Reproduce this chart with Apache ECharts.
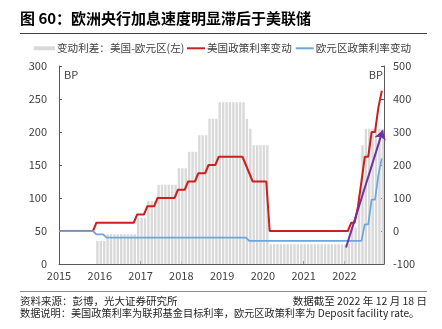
<!DOCTYPE html>
<html>
<head>
<meta charset="utf-8">
<script src="https://cdn.jsdelivr.net/npm/echarts@6/dist/echarts.min.js"></script>
<style>
  html, body { margin: 0; padding: 0; background: #fff; }
  #chart { width: 442px; height: 329px; }
</style>
</head>
<body>
<div id="chart"></div>
<script>
// Monthly observations, Jan 2015 – Dec 2022
const startYear = 2015;
const endYear = 2022;
const months = [];
for (let y = startYear; y <= endYear; y++) {
  for (let m = 1; m <= 12; m++) months.push(y + '-' + String(m).padStart(2, '0'));
}

// Year tick labels on the time axis
const yearLabels = ['2015', '2016', '2017', '2018', '2019', '2020', '2021', '2022'];
const leftTicks = [0, 50, 100, 150, 200, 250, 300];
const rightTicks = [-100, 0, 100, 200, 300, 400, 500];

// Cumulative change in the US policy rate since Jan 2015 (bp)
const usChange = [
  0, 0, 0, 0, 0, 0, 0, 0, 0, 0, 0, 25,
  25, 25, 25, 25, 25, 25, 25, 25, 25, 25, 25, 50,
  50, 50, 75, 75, 75, 100, 100, 100, 100, 100, 100, 125,
  125, 125, 150, 150, 150, 175, 175, 175, 200, 200, 200, 225,
  225, 225, 225, 225, 225, 225, 225, 200, 175, 150, 150, 150,
  150, 150, 0, 0, 0, 0, 0, 0, 0, 0, 0, 0,
  0, 0, 0, 0, 0, 0, 0, 0, 0, 0, 0, 0,
  0, 0, 25, 25, 75, 150, 225, 225, 300, 300, 375, 425
];

// Cumulative change in the euro-area deposit facility rate since Jan 2015 (bp)
const euChange = [
  0, 0, 0, 0, 0, 0, 0, 0, 0, 0, 0, -10,
  -10, -10, -20, -20, -20, -20, -20, -20, -20, -20, -20, -20,
  -20, -20, -20, -20, -20, -20, -20, -20, -20, -20, -20, -20,
  -20, -20, -20, -20, -20, -20, -20, -20, -20, -20, -20, -20,
  -20, -20, -20, -20, -20, -20, -20, -20, -30, -30, -30, -30,
  -30, -30, -30, -30, -30, -30, -30, -30, -30, -30, -30, -30,
  -30, -30, -30, -30, -30, -30, -30, -30, -30, -30, -30, -30,
  -30, -30, -30, -30, -30, -30, 20, 20, 95, 95, 170, 220
];

// Spread of the two changes: US minus euro area (bp, left axis)
const spread = [
  0, 0, 0, 0, 0, 0, 0, 0, 0, 0, 0, 35,
  35, 35, 45, 45, 45, 45, 45, 45, 45, 45, 45, 70,
  70, 70, 95, 95, 95, 120, 120, 120, 120, 120, 120, 145,
  145, 145, 170, 170, 170, 195, 195, 195, 220, 220, 220, 245,
  245, 245, 245, 245, 245, 245, 245, 220, 205, 180, 180, 180,
  180, 180, 30, 30, 30, 30, 30, 30, 30, 30, 30, 30,
  30, 30, 30, 30, 30, 30, 30, 30, 30, 30, 30, 30,
  30, 30, 55, 55, 105, 180, 205, 205, 205, 205, 205, 205
];

// Trend arrow over the 2022 tightening cycle: [decimal year, bp on right axis]
const trendArrow = [[2022.04, -50], [2022.94, 305]];

const SPREAD_NAME = '变动利差：美国-欧元区(左)';
const US_NAME = '美国政策利率变动';
const EU_NAME = '欧元区政策利率变动';

const FONT = '"Noto Sans CJK SC", "Noto Sans", sans-serif';
const AXIS_COLOR = '#595959';
const TEXT_COLOR = '#404040';
const US_COLOR = '#cc1f1f';
const EU_COLOR = '#6ea6dc';

function monthPos(label) {
  const [y, m] = label.split('-').map(Number);
  return y + (m - 1) / 12;
}

const barData = months.map((mo, i) => [monthPos(mo) + 0.3 / 12, spread[i]]);
const usData = months.map((mo, i) => [monthPos(mo), usChange[i]]);
const euData = months.map((mo, i) => [monthPos(mo), euChange[i]]);

const chart = echarts.init(document.getElementById('chart'), null, { renderer: 'canvas' });

const yAxisCommon = {
  type: 'value',
  axisLine: { show: true, onZero: false, lineStyle: { color: AXIS_COLOR, width: 1 } },
  axisTick: { show: true, inside: true, length: 3, lineStyle: { color: AXIS_COLOR } },
  axisLabel: { color: TEXT_COLOR, fontSize: 11, fontFamily: FONT },
  splitLine: { show: false }
};

const legendText = { fontSize: 10.6, color: TEXT_COLOR, fontFamily: FONT, padding: [0, 0, 0, -3] };

chart.setOption({
  animation: false,
  backgroundColor: '#fff',
  textStyle: { fontFamily: FONT },
  grid: { left: 59, right: 58, top: 66, bottom: 65 },
  legend: [
    {
      left: 34, top: 43, width: 160, padding: 0,
      icon: 'rect', itemWidth: 21, itemHeight: 4,
      textStyle: legendText,
      data: [SPREAD_NAME]
    },
    {
      left: 187, top: 43, width: 250, padding: 0,
      icon: 'rect', itemWidth: 18, itemHeight: 2, itemGap: 4,
      textStyle: legendText,
      data: [US_NAME, EU_NAME]
    }
  ],
  xAxis: {
    type: 'value',
    min: startYear,
    max: 2022.97,
    interval: 1,
    axisLine: { onZero: false, lineStyle: { color: AXIS_COLOR, width: 1 } },
    axisTick: { inside: true, length: 3, lineStyle: { color: AXIS_COLOR } },
    axisLabel: {
      color: TEXT_COLOR, fontSize: 11, fontFamily: FONT, margin: 6, showMaxLabel: false,
      formatter: v => (Number.isInteger(v) && yearLabels.includes(String(v))) ? String(v) : ''
    },
    splitLine: { show: false }
  },
  yAxis: [
    Object.assign({}, yAxisCommon, {
      position: 'left', min: leftTicks[0], max: leftTicks[leftTicks.length - 1],
      interval: leftTicks[1] - leftTicks[0],
      axisLabel: Object.assign({}, yAxisCommon.axisLabel, { margin: 12 })
    }),
    Object.assign({}, yAxisCommon, {
      position: 'right', min: rightTicks[0], max: rightTicks[rightTicks.length - 1],
      interval: rightTicks[1] - rightTicks[0],
      axisLabel: Object.assign({}, yAxisCommon.axisLabel, { margin: 9 })
    })
  ],
  series: [
    {
      name: SPREAD_NAME,
      type: 'bar',
      yAxisIndex: 0,
      barWidth: 2.4,
      itemStyle: { color: '#d9d9d9' },
      data: barData,
      z: 1
    },
    {
      name: US_NAME,
      type: 'line',
      yAxisIndex: 1,
      symbol: 'none',
      lineStyle: { color: US_COLOR, width: 2 },
      itemStyle: { color: US_COLOR },
      data: usData,
      z: 3
    },
    {
      name: EU_NAME,
      type: 'line',
      yAxisIndex: 1,
      symbol: 'none',
      lineStyle: { color: EU_COLOR, width: 1.75 },
      itemStyle: { color: EU_COLOR },
      data: euData,
      z: 3,
      markLine: {
        silent: true,
        symbol: ['none', 'arrow'],
        symbolSize: 9,
        label: { show: false },
        lineStyle: { color: '#7030a0', width: 2, type: 'solid' },
        data: [[{ coord: trendArrow[0] }, { coord: trendArrow[1] }]]
      }
    }
  ],
  graphic: [
    {
      type: 'text', left: 20, top: 11,
      style: { text: '图 60：欧洲央行加息速度明显滞后于美联储', font: 'bold 15px ' + FONT, fill: '#000' }
    },
    {
      type: 'line', shape: { x1: 20, y1: 33.5, x2: 427, y2: 33.5 },
      style: { stroke: '#404040', lineWidth: 1 }
    },
    {
      type: 'text', left: 64, top: 69,
      style: { text: 'BP', font: '11px ' + FONT, fill: TEXT_COLOR }
    },
    {
      type: 'text', right: 59, top: 69,
      style: { text: 'BP', font: '11px ' + FONT, fill: TEXT_COLOR }
    },
    {
      type: 'line', shape: { x1: 20, y1: 291.5, x2: 427, y2: 291.5 },
      style: { stroke: '#8c8c8c', lineWidth: 1 }
    },
    {
      type: 'text', left: 20, top: 296,
      style: { text: '资料来源：彭博，光大证券研究所', font: '10.5px ' + FONT, fill: '#262626' }
    },
    {
      type: 'text', right: 15, top: 296,
      style: { text: '数据截至 2022 年 12 月 18 日', font: '10.5px ' + FONT, fill: '#262626' }
    },
    {
      type: 'text', left: 20, top: 308,
      style: { text: '数据说明：美国政策利率为联邦基金目标利率，欧元区政策利率为 Deposit facility rate。', font: '10.2px ' + FONT, fill: '#262626' }
    }
  ]
});
</script>
</body>
</html>
